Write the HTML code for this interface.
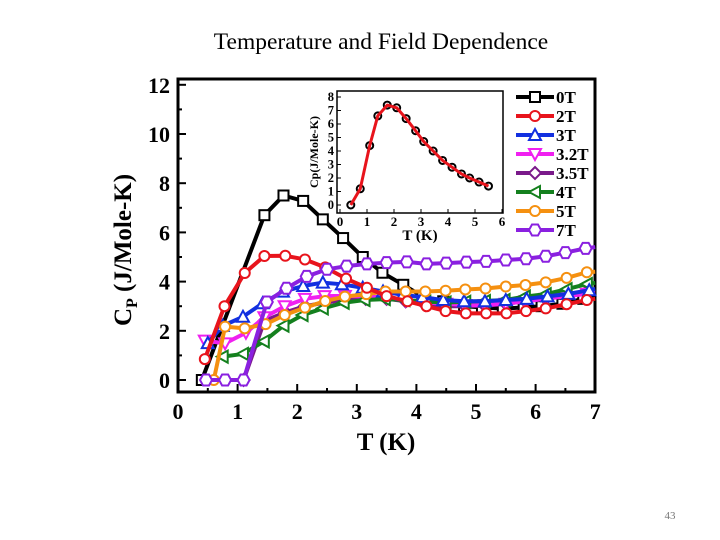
<!DOCTYPE html>
<html><head><meta charset="utf-8"><style>
body{margin:0;background:#fff;width:720px;height:540px;overflow:hidden}
svg{display:block}
text{font-family:"Liberation Serif",serif}
</style></head><body>
<svg id="c" width="720" height="540">
<text x="381" y="49" font-size="23.5" text-anchor="middle">Temperature and Field Dependence</text>
<text x="670" y="519" font-size="11" fill="#777" text-anchor="middle">43</text>
</svg>
<script>
const xTicks=[0,1,2,3,4,5,6,7];
const yTicks=[0,2,4,6,8,10,12];
const t0T=[0.4,1.45,1.77,2.1,2.43,2.77,3.1,3.43,3.78,4.1,4.45,4.8,5.1,5.45,5.8,6.1,6.45,6.8,7.0];
const v0T=[0,6.7,7.5,7.28,6.53,5.77,5.0,4.36,3.87,3.4,3.2,3.0,2.95,2.9,2.95,3.0,3.1,3.3,3.4];
const t2T=[0.45,0.78,1.12,1.45,1.8,2.13,2.47,2.82,3.17,3.5,3.85,4.17,4.49,4.83,5.17,5.51,5.84,6.17,6.52,6.86,7.0];
const v2T=[0.85,3.0,4.35,5.04,5.05,4.9,4.58,4.12,3.75,3.41,3.2,3.0,2.8,2.71,2.71,2.71,2.8,2.91,3.08,3.25,3.3];
const t3T=[0.5,0.75,1.09,1.42,1.76,2.1,2.43,2.75,3.1,3.44,3.77,4.1,4.45,4.8,5.15,5.5,5.85,6.2,6.55,6.9,7.0];
const v3T=[1.5,2.2,2.57,3.12,3.59,3.82,3.96,3.89,3.75,3.6,3.46,3.37,3.25,3.2,3.2,3.25,3.3,3.4,3.5,3.65,3.7];
const t32T=[0.45,0.79,1.14,1.45,1.79,2.13,2.46,2.8,3.15,3.5,3.82,4.15,4.5,4.82,5.15,5.5,5.83,6.17,6.5,6.86,7.0];
const v32T=[1.6,1.49,1.92,2.55,3.0,3.3,3.41,3.42,3.4,3.35,3.25,3.15,3.1,3.05,3.05,3.1,3.2,3.3,3.4,3.5,3.55];
const t35T=[1.1,1.45,1.8,2.13,2.47,2.8,3.15,3.5,3.82,4.15,4.5,4.82,5.15,5.5,5.83,6.17,6.5,6.86,7.0];
const v35T=[0,2.4,2.75,3.0,3.15,3.25,3.3,3.3,3.2,3.05,3.0,3.0,3.02,3.1,3.2,3.3,3.45,3.6,3.65];
const t4T=[0.75,1.09,1.44,1.77,2.09,2.43,2.78,3.13,3.47,3.8,4.15,4.49,4.82,5.15,5.48,5.82,6.17,6.52,6.86,7.0];
const v4T=[0.95,1.06,1.57,2.21,2.64,2.91,3.14,3.25,3.29,3.25,3.18,3.15,3.18,3.21,3.25,3.39,3.49,3.69,3.9,3.95];
const t5T=[0.6,0.79,1.12,1.47,1.79,2.13,2.47,2.8,3.16,3.48,3.82,4.15,4.49,4.82,5.16,5.5,5.83,6.17,6.52,6.86,7.0];
const v5T=[0,2.17,2.1,2.27,2.64,2.94,3.21,3.39,3.49,3.6,3.6,3.6,3.63,3.68,3.72,3.8,3.86,3.97,4.15,4.38,4.4];
const t7T=[0.47,0.79,1.1,1.49,1.82,2.16,2.5,2.83,3.17,3.5,3.84,4.17,4.5,4.84,5.17,5.5,5.84,6.17,6.5,6.84,7.0];
const v7T=[0,0,0,3.17,3.73,4.21,4.5,4.63,4.72,4.77,4.8,4.72,4.75,4.79,4.82,4.88,4.93,5.03,5.18,5.35,5.4];
const insetX=[0.4,0.75,1.1,1.4,1.75,2.1,2.45,2.8,3.1,3.45,3.8,4.15,4.5,4.8,5.15,5.5];
const insetY=[0,1.2,4.4,6.6,7.4,7.2,6.4,5.5,4.7,4.0,3.3,2.8,2.3,2.0,1.7,1.4];
const insetXTicks=[0,1,2,3,4,5,6];
const insetYTicks=[0,1,2,3,4,5,6,7,8];
const legendNames=["0T","2T","3T","3.2T","3.5T","4T","5T","7T"];

const NS="http://www.w3.org/2000/svg";
const svg=document.getElementById('c');
function mk(tag,at,par){const e=document.createElementNS(NS,tag);for(const k in at)e.setAttribute(k,at[k]);(par||svg).appendChild(e);return e;}
const X=t=>178+t*59.6, Y=v=>380-v*24.6;
const L=178,R=595,T=79,B=392;
let fr=mk('rect',{x:L,y:T,width:R-L,height:B-T,fill:'none',stroke:'#000','stroke-width':3});


xTicks.forEach(t=>{
 mk('line',{x1:X(t),x2:X(t),y1:B,y2:B-8,stroke:'#000','stroke-width':2});
 if(t<7)mk('line',{x1:X(t+0.5),x2:X(t+0.5),y1:B,y2:B-4,stroke:'#000','stroke-width':2});
 const e=mk('text',{x:X(t),y:B+27,'font-size':22,'font-weight':'bold','text-anchor':'middle'});e.textContent=t;
 
 
});
yTicks.forEach(v=>{
 mk('line',{x1:L,x2:L+8,y1:Y(v),y2:Y(v),stroke:'#000','stroke-width':2});
 if(v<12)mk('line',{x1:L,x2:L+4,y1:Y(v+1),y2:Y(v+1),stroke:'#000','stroke-width':2});
 const e=mk('text',{x:L-8,y:Y(v)+8,'font-size':22,'font-weight':'bold','text-anchor':'end'});e.textContent=v;
 
 
});
let xl=mk('text',{x:386,y:450,'font-size':25,'font-weight':'bold','text-anchor':'middle'});xl.textContent='T (K)';


let yl=mk('text',{x:0,y:0,'font-size':25,'font-weight':'bold','text-anchor':'middle',transform:'translate(131,250) rotate(-90)'});
yl.innerHTML='C<tspan font-size="16" dy="6">P</tspan><tspan dy="-6"> (J/Mole-K)</tspan>';



const colors=["#000","#e8141c","#1230e0","#f020f0","#7a1a8a","#14801e","#f59010","#8a20e0"];
const shapes=["sq","ci","tu","td","di","tl","ci","hx"];
function marker(g,x,y,s,c){
 const a={fill:'#fff',stroke:c,'stroke-width':2};
 const r=5;
 if(s=='sq')mk('rect',Object.assign({x:x-r,y:y-r,width:2*r,height:2*r},a),g);
 else if(s=='ci')mk('circle',Object.assign({cx:x,cy:y,r:r},a),g);
 else{let p;
  if(s=='tu')p=[[0,-6],[6,5],[-6,5]];
  if(s=='td')p=[[0,6],[6,-5],[-6,-5]];
  if(s=='tl')p=[[-6,0],[5,-6],[5,6]];
  if(s=='di')p=[[0,-6],[6,0],[0,6],[-6,0]];
  if(s=='hx')p=[[-3,-5.5],[3,-5.5],[6,0],[3,5.5],[-3,5.5],[-6,0]];
  mk('polygon',Object.assign({points:p.map(q=>(x+q[0])+','+(y+q[1])).join(' ')},a),g);}
}
const series=[[t0T,v0T],[t2T,v2T],[t3T,v3T],[t32T,v32T],[t35T,v35T],[t4T,v4T],[t5T,v5T],[t7T,v7T]];
const order=[0,4,3,5,2,6,1,7];
order.forEach(i=>{
 const [ts,vs]=series[i];
 const g=mk('g',{});
 
 
 mk('polyline',{points:ts.map((t,k)=>X(t)+','+Y(vs[k])).join(' '),fill:'none',stroke:colors[i],'stroke-width':4,'stroke-linejoin':'round'},g);
 ts.forEach((t,k)=>{if(t<6.95)marker(g,X(t),Y(vs[k]),shapes[i],colors[i]);});
});
const IX=t=>340+t*27, IY=v=>205-v*13.5;
const ig=mk('g',{});


mk('rect',{x:336,y:90,width:168,height:122,fill:'#fff',stroke:'none'},ig);
mk('rect',{x:337,y:91,width:166,height:122,fill:'#fff',stroke:'#000','stroke-width':1.5},ig);
insetXTicks.forEach(t=>{mk('line',{x1:IX(t),x2:IX(t),y1:213,y2:209,stroke:'#000'},ig);
 const e=mk('text',{x:IX(t),y:226,'font-size':13,'font-weight':'bold','text-anchor':'middle'},ig);e.textContent=t;
 
 });
insetYTicks.forEach(v=>{mk('line',{x1:337,x2:341,y1:IY(v),y2:IY(v),stroke:'#000'},ig);
 const e=mk('text',{x:334,y:IY(v)+4,'font-size':12.5,'font-weight':'bold','text-anchor':'end'},ig);e.textContent=v;
 
 });
let ixl=mk('text',{x:420,y:240,'font-size':15,'font-weight':'bold','text-anchor':'middle'},ig);ixl.textContent='T (K)';


let iyl=mk('text',{x:0,y:0,'font-size':12,'font-weight':'bold','text-anchor':'middle',transform:'translate(318,152) rotate(-90)'},ig);iyl.textContent='Cp(J/Mole-K)';


insetX.forEach((t,k)=>mk('circle',{cx:IX(t),cy:IY(insetY[k]),r:3.5,fill:'none',stroke:'#000','stroke-width':2},ig));
mk('polyline',{points:insetX.map((t,k)=>IX(t)+','+IY(insetY[k])).join(' '),fill:'none',stroke:'#e8141c','stroke-width':3,'stroke-linejoin':'round'},ig);
legendNames.forEach((n,i)=>{
 const y=97+i*19;
 const g=mk('g',{});
 
 
 mk('line',{x1:516,x2:554,y1:y,y2:y,stroke:colors[i],'stroke-width':4},g);
 marker(g,535,y,shapes[i],colors[i]);
 const e=mk('text',{x:556,y:y+6,'font-size':17,'font-weight':'bold'},g);e.textContent=n;
});
</script>
</body></html>
